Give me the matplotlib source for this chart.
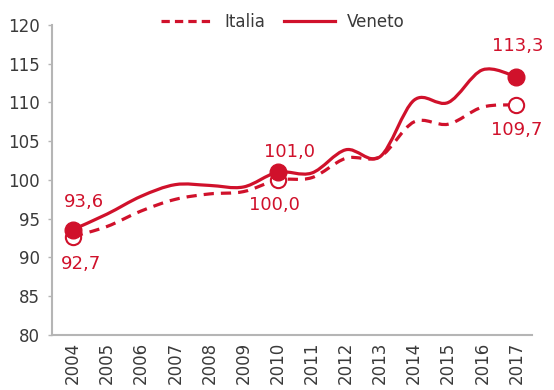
import matplotlib
matplotlib.use("Agg")
import matplotlib.pyplot as plt
import numpy as np
from matplotlib.path import Path
from matplotlib.patches import PathPatch
from matplotlib.lines import Line2D

years = [2004, 2005, 2006, 2007, 2008, 2009, 2010, 2011, 2012, 2013, 2014, 2015, 2016, 2017]
italia = [92.7, 94.0, 96.0, 97.5, 98.2, 98.5, 100.0, 100.3, 102.8, 103.0, 107.5, 107.2, 109.4, 109.7]
veneto = [93.6, 95.6, 97.9, 99.4, 99.3, 99.1, 101.0, 100.9, 103.9, 103.0, 110.3, 110.0, 114.2, 113.3]
highlight_years = [2004, 2010, 2017]
y_ticks = [80, 85, 90, 95, 100, 105, 110, 115, 120]

RED = "#d0112b"
GRAY_TXT = "#3a3a3a"
SPINE = "#b5b5b5"

plt.rcParams["font.family"] = ["DejaVu Sans"]


def smooth_path(xs, ys, tension=1.0 / 6):
    xs = np.asarray(xs, float)
    ys = np.asarray(ys, float)
    n = len(xs)
    verts = [(xs[0], ys[0])]
    codes = [Path.MOVETO]
    for i in range(n - 1):
        p0 = np.array([xs[max(i - 1, 0)], ys[max(i - 1, 0)]])
        p1 = np.array([xs[i], ys[i]])
        p2 = np.array([xs[i + 1], ys[i + 1]])
        p3 = np.array([xs[min(i + 2, n - 1)], ys[min(i + 2, n - 1)]])
        c1 = p1 + (p2 - p0) * tension
        c2 = p2 - (p3 - p1) * tension
        verts += [tuple(c1), tuple(c2), tuple(p2)]
        codes += [Path.CURVE4] * 3
    return Path(verts, codes)


fig = plt.figure(figsize=(5.54, 3.9), dpi=100)
ax = fig.add_axes([0.094, 0.141, 0.866, 0.795])

ax.add_patch(PathPatch(smooth_path(years, italia), fill=False, edgecolor=RED,
                       lw=2.3, linestyle=(0, (3.2, 2.2)), capstyle="butt"))
ax.add_patch(PathPatch(smooth_path(years, veneto), fill=False, edgecolor=RED, lw=2.3))

idx = [years.index(y) for y in highlight_years]
ax.plot([years[i] for i in idx], [italia[i] for i in idx], "o", ms=11,
        mfc="white", mec=RED, mew=1.5, ls="none", zorder=4)
ax.plot([years[i] for i in idx], [veneto[i] for i in idx], "o", ms=12,
        mfc=RED, mec=RED, ls="none", zorder=5)

def fmt(v):
    return f"{v:.1f}".replace(".", ",")

ven_off = [(11, 28), (12, 20), (1, 31)]
ita_off = [(8, -27), (-3, -25), (0, -25)]
for k, i in enumerate(idx):
    ax.annotate(fmt(veneto[i]), (years[i], veneto[i]), xytext=ven_off[k],
                textcoords="offset pixels", ha="center", va="center",
                color=RED, fontsize=13)
    ax.annotate(fmt(italia[i]), (years[i], italia[i]), xytext=ita_off[k],
                textcoords="offset pixels", ha="center", va="center",
                color=RED, fontsize=13)

ax.set_xlim(2003.39, 2017.45)
ax.set_ylim(80, 120)
ax.set_yticks(y_ticks)
ax.set_xticks(years)
ax.set_xticklabels([str(y) for y in years], rotation=90)
ax.tick_params(axis="x", length=0, pad=5, labelsize=12, labelcolor=GRAY_TXT)
ax.tick_params(axis="y", length=3, width=1, color=SPINE, pad=6, labelsize=12,
               labelcolor=GRAY_TXT)
for s in ["top", "right"]:
    ax.spines[s].set_visible(False)
for s in ["left", "bottom"]:
    ax.spines[s].set_color(SPINE)
    ax.spines[s].set_linewidth(1.5)

handles = [Line2D([], [], color=RED, lw=2.3, linestyle=(0, (2.6, 1.6))),
           Line2D([], [], color=RED, lw=2.3)]
fig.legend(handles, ["Italia", "Veneto"], loc="center", bbox_to_anchor=(0.511, 0.944),
           ncol=2, frameon=False, fontsize=12, handlelength=3.1, handletextpad=0.7,
           columnspacing=1.1, labelcolor=GRAY_TXT)

fig.savefig("out.png", dpi=100, facecolor="white")
